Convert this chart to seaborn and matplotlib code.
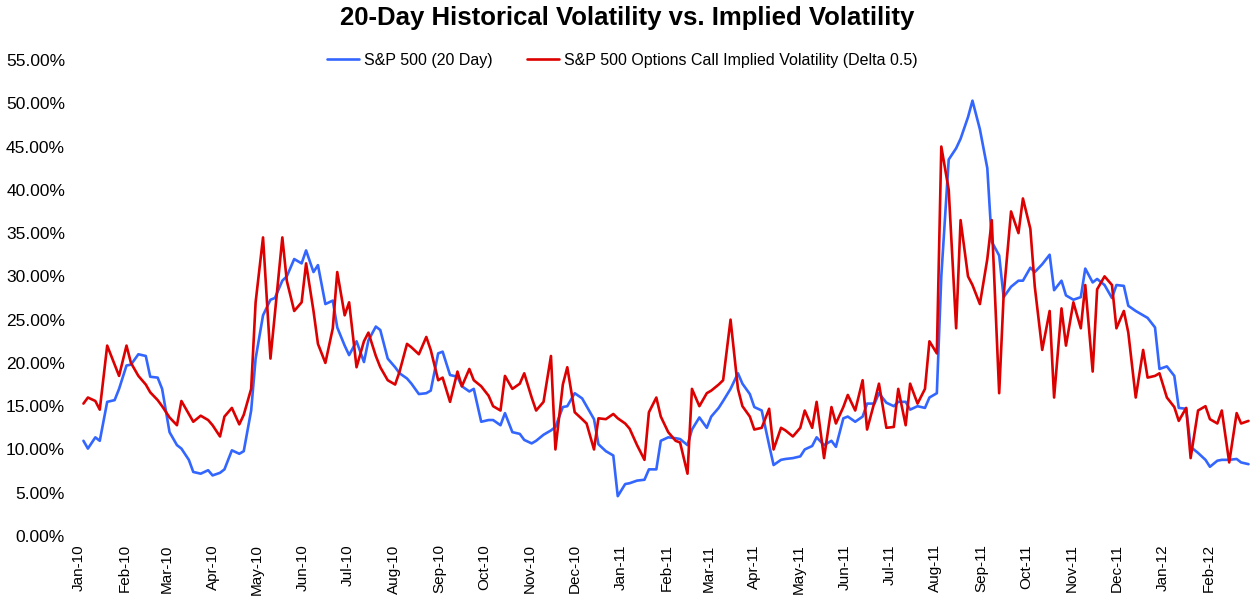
import pandas as pd
import matplotlib.pyplot as plt
import matplotlib.dates as mdates
from matplotlib.ticker import FuncFormatter
import seaborn as sns

# series sampled every third business day from 4 Jan 2010
hist_vol = [
    11.0, 10.1, 11.4, 11.0, 15.5, 15.7, 17.0, 19.7, 19.8, 21.0,
    20.8, 18.4, 18.3, 17.0, 12.0, 10.5, 10.1, 8.8, 7.4, 7.2,
    7.6, 7.0, 7.3, 7.7, 9.9, 9.5, 9.8, 14.5, 20.5, 25.5,
    27.3, 27.5, 29.5, 30.0, 32.0, 31.5, 33.0, 30.5, 31.3, 26.8,
    27.2, 24.1, 22.0, 20.9, 22.5, 20.1, 22.6, 24.2, 23.8, 20.5,
    19.5, 18.8, 18.2, 17.6, 16.4, 16.5, 16.8, 21.1, 21.3, 18.6,
    18.4, 17.3, 16.7, 17.0, 13.2, 13.4, 13.4, 12.8, 14.2, 12.0,
    11.8, 11.1, 10.7, 11.0, 11.7, 12.2, 12.6, 14.9, 15.0, 16.5,
    15.9, 15.0, 13.5, 10.6, 9.8, 9.3, 4.6, 6.0, 6.1, 6.4,
    6.5, 7.7, 7.7, 11.0, 11.4, 11.3, 11.2, 10.5, 12.3, 13.7,
    12.5, 13.8, 14.8, 15.6, 17.0, 18.8, 17.6, 16.4, 14.9, 14.5,
    10.5, 8.2, 8.8, 8.9, 9.0, 9.2, 10.0, 10.4, 11.4, 10.5,
    11.0, 10.3, 13.6, 13.8, 13.2, 13.8, 15.3, 15.3, 16.5, 15.4,
    15.0, 15.5, 15.5, 14.6, 15.0, 14.8, 16.0, 16.5, 30.0, 43.5,
    44.8, 45.9, 48.4, 50.3, 47.0, 42.5, 34.0, 32.4, 27.6, 28.8,
    29.5, 29.5, 31.0, 30.5, 31.4, 32.5, 28.4, 29.5, 27.8, 27.3,
    27.6, 30.9, 29.3, 29.7, 29.0, 27.5, 29.0, 28.9, 26.6, 26.0,
    25.5, 25.2, 24.1, 19.3, 19.6, 18.5, 14.8, 14.7, 10.3, 9.6,
    8.8, 8.0, 8.7, 8.8, 8.8, 8.9, 8.5, 8.3,
]

impl_vol = [
    15.3, 16.0, 15.6, 14.6, 22.0, 19.8, 18.5, 22.0, 20.0, 18.5,
    17.5, 16.6, 15.7, 15.0, 13.7, 12.8, 15.6, 14.1, 13.2, 13.9,
    13.4, 12.8, 11.5, 13.8, 14.8, 12.9, 14.0, 17.0, 27.0, 34.5,
    20.5, 25.7, 34.5, 29.5, 26.0, 27.0, 31.5, 26.0, 22.2, 20.0,
    24.0, 30.5, 25.5, 27.0, 19.5, 22.5, 23.5, 20.8, 19.5, 18.0,
    17.5, 19.0, 22.2, 21.8, 21.0, 23.0, 21.5, 18.0, 18.3, 15.5,
    19.0, 17.3, 19.3, 18.0, 17.3, 16.2, 15.0, 14.5, 18.5, 17.0,
    17.6, 18.8, 16.0, 14.5, 15.5, 20.8, 10.0, 17.5, 19.5, 14.3,
    13.5, 13.0, 10.0, 13.6, 13.5, 14.1, 13.6, 13.0, 12.4, 10.5,
    8.8, 14.3, 16.0, 13.8, 12.0, 11.0, 10.8, 7.2, 17.0, 15.0,
    16.5, 16.8, 17.5, 18.0, 25.0, 17.0, 15.0, 13.8, 12.3, 12.5,
    14.7, 10.0, 12.5, 12.2, 11.5, 12.5, 14.5, 12.5, 15.5, 9.0,
    14.9, 13.0, 14.9, 16.3, 14.5, 18.0, 12.3, 15.5, 17.6, 12.5,
    12.6, 17.0, 12.8, 17.6, 15.3, 17.0, 22.5, 21.1, 45.0, 40.0,
    24.0, 36.5, 30.0, 29.0, 26.8, 32.0, 36.5, 16.5, 27.8, 37.5,
    35.0, 39.0, 35.5, 28.8, 21.5, 26.0, 16.0, 26.3, 22.0, 27.0,
    24.0, 29.0, 19.0, 28.5, 30.0, 29.0, 24.0, 26.0, 23.5, 16.0,
    21.5, 18.3, 18.5, 18.8, 16.0, 14.9, 13.3, 14.8, 9.0, 14.5,
    15.0, 13.5, 13.0, 14.5, 8.5, 14.2, 13.0, 13.3,
]

series_names = ['S&P 500 (20 Day)',
                'S&P 500 Options Call Implied Volatility (Delta 0.5)']
colors = ['#3366FF', '#DD0000']

dates = pd.bdate_range('2010-01-04', periods=len(hist_vol), freq='3B')
df = pd.concat([
    pd.DataFrame({'Date': dates, 'Vol': hist_vol, 'Series': series_names[0]}),
    pd.DataFrame({'Date': dates, 'Vol': impl_vol, 'Series': series_names[1]}),
])

sns.set_style('white')
plt.rcParams['font.family'] = ['Liberation Sans', 'DejaVu Sans']
plt.rcParams['text.color'] = 'black'
plt.rcParams['xtick.color'] = 'black'
plt.rcParams['ytick.color'] = 'black'

fig = plt.figure(figsize=(12.54, 5.99), dpi=100)
ax = fig.add_axes([79 / 1254, 1 - 536 / 599, 1171 / 1254, 476 / 599])

sns.lineplot(data=df, x='Date', y='Vol', hue='Series', hue_order=series_names,
             palette=colors, linewidth=1.9, ax=ax)

ax.set_ylim(0, 55)
ax.set_yticks(range(0, 56, 5))
ax.yaxis.set_major_formatter(FuncFormatter(lambda v, p: f'{v:.2f}%'))
ax.set_xlim(pd.Timestamp('2010-01-01'), pd.Timestamp('2012-02-29'))
ax.xaxis.set_major_locator(mdates.MonthLocator())
ax.xaxis.set_major_formatter(mdates.DateFormatter('%b-%y'))
ax.tick_params(axis='x', labelrotation=90, length=0, labelsize=11, pad=6)
ax.tick_params(axis='y', length=0, labelsize=12.5, pad=10)
ax.set_xlabel('')
ax.set_ylabel('')
sns.despine(ax=ax, left=True, bottom=True)

sns.move_legend(ax, 'center', bbox_to_anchor=(0.464, 1.0), ncol=2,
                frameon=False, title=None, fontsize=11.5,
                handlelength=2.0, columnspacing=2.2, handletextpad=0.3)

fig.suptitle('20-Day Historical Volatility vs. Implied Volatility',
             fontsize=18.5, fontweight='bold', y=1 - 18 / 599, va='center')

fig.savefig('out.png', dpi=100)
